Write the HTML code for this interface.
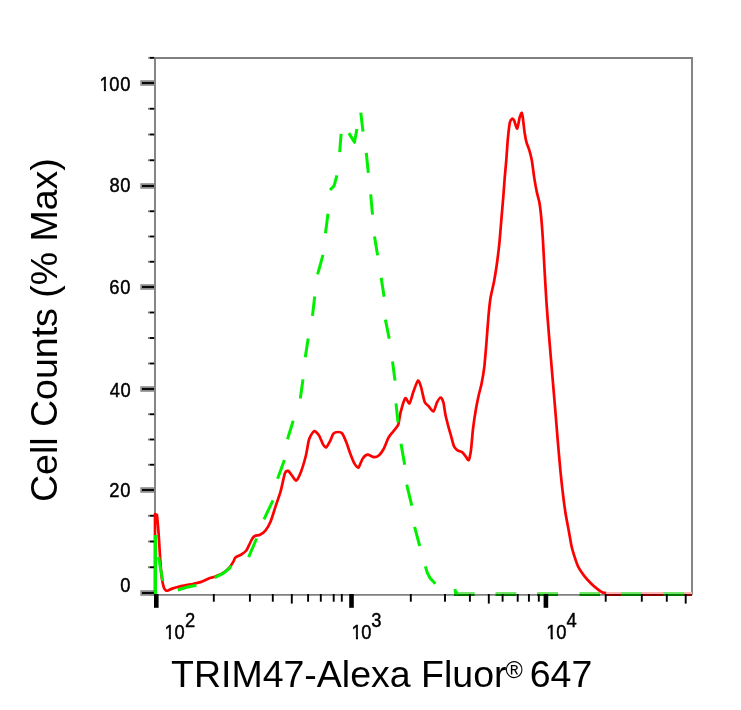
<!DOCTYPE html>
<html><head><meta charset="utf-8"><title>Flow cytometry histogram</title>
<style>
html,body{margin:0;padding:0;background:#fff;}
body{width:741px;height:710px;overflow:hidden;}
svg{display:block;will-change:transform;}
.t{font-family:"Liberation Sans",Arial,sans-serif;font-size:20.4px;fill:#000;stroke:#000;stroke-width:0.45px;}
.big{font-family:"Liberation Sans",Arial,sans-serif;font-size:37.5px;fill:#000;}
.reg{font-family:"Liberation Sans",Arial,sans-serif;font-size:23.5px;fill:#000;}
</style></head><body>
<svg width="741" height="710" viewBox="0 0 741 710"><rect width="741" height="710" fill="#fff"/><path d="M155,58 H692 V594.85 M155,57.1 V595.8 M150,594.85 H692" fill="none" stroke="#808080" stroke-width="1.9"/><rect x="140.3" y="80.20" width="13.8" height="5.6" fill="#8c8c8c"/><rect x="142" y="82.05" width="12" height="1.9" fill="#000"/><rect x="140.3" y="183.20" width="13.8" height="5.6" fill="#8c8c8c"/><rect x="142" y="185.05" width="12" height="1.9" fill="#000"/><rect x="140.3" y="284.20" width="13.8" height="5.6" fill="#8c8c8c"/><rect x="142" y="286.05" width="12" height="1.9" fill="#000"/><rect x="140.3" y="386.20" width="13.8" height="5.6" fill="#8c8c8c"/><rect x="142" y="388.05" width="12" height="1.9" fill="#000"/><rect x="140.3" y="487.20" width="13.8" height="5.6" fill="#8c8c8c"/><rect x="142" y="489.05" width="12" height="1.9" fill="#000"/><rect x="140.3" y="590.20" width="13.8" height="5.6" fill="#8c8c8c"/><rect x="142" y="592.05" width="12" height="1.9" fill="#000"/><rect x="148" y="566.30" width="2" height="1.9" fill="#777"/><rect x="150" y="566.30" width="4.2" height="1.9" fill="#000"/><rect x="148" y="540.55" width="2" height="1.9" fill="#777"/><rect x="150" y="540.55" width="4.2" height="1.9" fill="#000"/><rect x="148" y="514.80" width="2" height="1.9" fill="#777"/><rect x="150" y="514.80" width="4.2" height="1.9" fill="#000"/><rect x="148" y="463.80" width="2" height="1.9" fill="#777"/><rect x="150" y="463.80" width="4.2" height="1.9" fill="#000"/><rect x="148" y="438.55" width="2" height="1.9" fill="#777"/><rect x="150" y="438.55" width="4.2" height="1.9" fill="#000"/><rect x="148" y="413.30" width="2" height="1.9" fill="#777"/><rect x="150" y="413.30" width="4.2" height="1.9" fill="#000"/><rect x="148" y="362.55" width="2" height="1.9" fill="#777"/><rect x="150" y="362.55" width="4.2" height="1.9" fill="#000"/><rect x="148" y="337.05" width="2" height="1.9" fill="#777"/><rect x="150" y="337.05" width="4.2" height="1.9" fill="#000"/><rect x="148" y="311.55" width="2" height="1.9" fill="#777"/><rect x="150" y="311.55" width="4.2" height="1.9" fill="#000"/><rect x="148" y="260.80" width="2" height="1.9" fill="#777"/><rect x="150" y="260.80" width="4.2" height="1.9" fill="#000"/><rect x="148" y="235.55" width="2" height="1.9" fill="#777"/><rect x="150" y="235.55" width="4.2" height="1.9" fill="#000"/><rect x="148" y="210.30" width="2" height="1.9" fill="#777"/><rect x="150" y="210.30" width="4.2" height="1.9" fill="#000"/><rect x="148" y="159.30" width="2" height="1.9" fill="#777"/><rect x="150" y="159.30" width="4.2" height="1.9" fill="#000"/><rect x="148" y="133.55" width="2" height="1.9" fill="#777"/><rect x="150" y="133.55" width="4.2" height="1.9" fill="#000"/><rect x="148" y="107.80" width="2" height="1.9" fill="#777"/><rect x="150" y="107.80" width="4.2" height="1.9" fill="#000"/><rect x="148.3" y="56.9" width="2" height="1.9" fill="#777"/><rect x="150" y="56.9" width="4.2" height="1.9" fill="#000"/><rect x="605" y="592" width="87" height="2" fill="#ffb4b4"/><rect x="605" y="594" width="87" height="2" fill="#880000"/><rect x="454" y="592" width="20.7" height="2" fill="#72e666"/><rect x="454" y="594" width="20.7" height="2" fill="#007800"/><rect x="495.5" y="592" width="20.8" height="2" fill="#72e666"/><rect x="495.5" y="594" width="20.8" height="2" fill="#007800"/><rect x="537" y="592" width="21.0" height="2" fill="#72e666"/><rect x="537" y="594" width="21.0" height="2" fill="#007800"/><rect x="579.5" y="592" width="20.5" height="2" fill="#72e666"/><rect x="579.5" y="594" width="20.5" height="2" fill="#007800"/><rect x="621" y="592" width="20.8" height="2" fill="#72e666"/><rect x="621" y="594" width="20.8" height="2" fill="#007800"/><rect x="663.4" y="592" width="20.9" height="2" fill="#72e666"/><rect x="663.4" y="594" width="20.9" height="2" fill="#007800"/><rect x="154.00" y="594" width="4.6" height="13.8" fill="#000"/><rect x="349.20" y="594" width="4.6" height="13.8" fill="#000"/><rect x="543.60" y="594" width="4.6" height="13.8" fill="#000"/><rect x="212.85" y="594" width="1.9" height="7.7" fill="#000"/><rect x="248.95" y="594" width="1.9" height="7.7" fill="#000"/><rect x="271.85" y="594" width="1.9" height="7.7" fill="#000"/><rect x="290.85" y="594" width="1.9" height="9.6" fill="#000"/><rect x="307.15" y="594" width="1.9" height="7.7" fill="#000"/><rect x="319.85" y="594" width="1.9" height="7.7" fill="#000"/><rect x="332.75" y="594" width="1.9" height="7.7" fill="#000"/><rect x="340.85" y="594" width="1.9" height="7.7" fill="#000"/><rect x="409.85" y="594" width="1.9" height="7.7" fill="#000"/><rect x="444.05" y="594" width="1.9" height="7.7" fill="#000"/><rect x="468.95" y="594" width="1.9" height="7.7" fill="#000"/><rect x="487.85" y="594" width="1.9" height="9.6" fill="#000"/><rect x="501.65" y="594" width="1.9" height="7.7" fill="#000"/><rect x="516.75" y="594" width="1.9" height="7.7" fill="#000"/><rect x="527.95" y="594" width="1.9" height="7.7" fill="#000"/><rect x="537.85" y="594" width="1.9" height="7.7" fill="#000"/><rect x="604.75" y="594" width="1.9" height="7.7" fill="#000"/><rect x="640.85" y="594" width="1.9" height="7.7" fill="#000"/><rect x="665.85" y="594" width="1.9" height="7.7" fill="#000"/><rect x="684.75" y="594" width="1.9" height="9.6" fill="#000"/><path d="M155,594 L155,514 L157,515 C157.18,516.98 158.15,527.22 158.5,532 C158.85,536.78 159.66,550.98 160,556 C160.34,561.02 161.12,572.01 161.4,575 C161.68,577.99 162.10,580.08 162.4,581.6 C162.70,583.12 163.58,586.96 164,588 C164.42,589.04 165.52,590.21 166,590.5 C166.48,590.79 167.39,590.72 168.1,590.5 C168.81,590.28 170.69,589.08 172.1,588.6 C173.51,588.12 178.02,586.90 180.2,586.4 C182.38,585.90 188.43,584.80 190.8,584.3 C193.17,583.80 198.27,582.82 200.5,582.1 C202.73,581.38 208.23,578.73 209.9,578.1 C211.57,577.47 213.31,577.27 214.8,576.7 C216.29,576.13 220.97,574.30 222.7,573.2 C224.43,572.10 228.34,568.68 229.6,567.3 C230.86,565.92 232.81,562.55 233.5,561.4 C234.19,560.25 234.58,558.20 235.5,557.4 C236.42,556.60 240.14,555.30 241.4,554.5 C242.66,553.70 245.38,551.65 246.3,550.5 C247.22,549.35 248.61,545.98 249.3,544.6 C249.99,543.22 251.51,539.73 252.2,538.7 C252.89,537.67 254.29,536.25 255.2,535.8 C256.11,535.34 258.81,535.39 260,534.8 C261.19,534.20 264.17,532.22 265.4,530.7 C266.62,529.18 269.32,524.61 270.5,521.8 C271.68,518.99 274.32,510.15 275.5,506.6 C276.68,503.05 279.50,495.28 280.6,491.4 C281.70,487.51 284.02,475.69 284.9,473.3 C285.77,470.91 287.26,470.62 288.1,470.9 C288.94,471.18 291.16,474.57 292.1,475.7 C293.05,476.83 295.16,481.07 296.2,480.6 C297.24,480.13 299.87,474.63 301,471.7 C302.13,468.77 304.95,459.28 305.9,455.5 C306.84,451.72 308.16,442.13 309.1,439.3 C310.05,436.47 312.86,431.68 314,431.2 C315.14,430.72 317.86,433.69 318.9,435.2 C319.94,436.70 322.05,442.68 322.9,444.1 C323.75,445.52 325.35,447.77 326.2,447.4 C327.05,447.03 329.36,442.51 330.2,440.9 C331.04,439.29 332.45,434.64 333.4,433.6 C334.34,432.56 337.26,432.00 338.3,432 C339.34,432.00 341.36,432.38 342.3,433.6 C343.25,434.83 345.45,440.13 346.4,442.5 C347.34,444.87 349.45,451.44 350.4,453.9 C351.34,456.36 353.56,462.00 354.5,463.6 C355.44,465.20 357.56,468.17 358.5,467.6 C359.44,467.03 361.56,460.20 362.6,458.7 C363.64,457.19 366.08,454.89 367.4,454.7 C368.72,454.51 372.57,457.01 373.9,457.1 C375.23,457.19 377.67,456.44 378.8,455.5 C379.93,454.56 382.47,451.08 383.6,449 C384.73,446.92 387.36,439.78 388.5,437.7 C389.64,435.62 392.27,432.72 393.4,431.2 C394.53,429.68 397.36,426.90 398.2,424.7 C399.04,422.50 399.78,415.38 400.6,412.3 C401.42,409.22 404.16,399.34 405.2,398.3 C406.24,397.26 408.56,404.13 409.5,403.4 C410.44,402.66 412.32,394.66 413.3,392 C414.28,389.34 417.00,381.20 417.9,380.6 C418.80,380.00 420.21,384.39 421,386.9 C421.79,389.41 423.82,399.87 424.7,402.1 C425.57,404.33 427.47,404.90 428.5,406 C429.53,407.10 432.51,411.92 433.5,411.5 C434.49,411.08 436.17,404.03 437,402.4 C437.83,400.77 439.85,397.50 440.6,397.5 C441.35,397.50 442.83,400.35 443.4,402.4 C443.97,404.45 444.93,412.31 445.5,415.1 C446.07,417.89 447.65,423.84 448.3,426.3 C448.95,428.76 450.45,433.89 451.1,436.2 C451.75,438.51 453.15,444.46 453.9,446.1 C454.65,447.75 456.51,449.56 457.5,450.3 C458.49,451.04 461.42,451.66 462.4,452.4 C463.38,453.13 465.16,455.70 465.9,456.6 C466.63,457.50 468.10,460.87 468.7,460.1 C469.30,459.33 470.50,453.63 471,450 C471.50,446.37 472.43,433.75 473,429 C473.57,424.25 475.23,413.24 475.9,409.3 C476.56,405.36 478.05,398.15 478.7,395.2 C479.35,392.25 480.85,387.29 481.5,384 C482.15,380.71 483.74,371.61 484.3,367 C484.86,362.39 485.81,350.45 486.3,344.5 C486.79,338.55 488.01,321.43 488.5,316 C488.99,310.57 489.87,301.93 490.5,298 C491.13,294.07 493.16,286.21 493.9,282.3 C494.63,278.39 496.16,269.11 496.8,264.5 C497.44,259.89 498.86,248.09 499.4,242.8 C499.94,237.52 500.93,224.72 501.4,219.2 C501.87,213.68 503.01,200.33 503.4,195.5 C503.78,190.67 504.36,181.94 504.7,177.8 C505.04,173.66 505.94,164.48 506.3,160 C506.66,155.52 507.39,143.75 507.8,139.4 C508.21,135.05 509.29,125.12 509.8,122.7 C510.31,120.28 511.69,118.93 512.2,118.7 C512.71,118.47 513.62,119.55 514.2,120.7 C514.78,121.86 516.57,128.95 517.2,128.6 C517.83,128.25 519.06,119.54 519.6,117.7 C520.14,115.86 521.39,112.57 521.8,112.8 C522.21,113.03 522.77,117.40 523.1,119.7 C523.43,122.00 524.20,129.85 524.6,132.5 C525.00,135.15 525.95,140.35 526.5,142.4 C527.05,144.45 528.68,148.01 529.3,150.1 C529.92,152.19 531.20,156.94 531.8,160.3 C532.39,163.66 533.80,175.16 534.4,178.9 C535.00,182.65 536.32,189.65 536.9,192.4 C537.48,195.15 538.91,199.75 539.4,202.5 C539.89,205.25 540.70,211.86 541.1,216 C541.50,220.14 542.46,232.87 542.8,238 C543.14,243.13 543.58,252.62 544,260 C544.42,267.38 545.83,292.64 546.4,301.3 C546.97,309.96 548.16,325.05 548.9,334.2 C549.63,343.35 551.98,371.09 552.7,379.7 C553.42,388.31 554.46,400.26 555.1,408 C555.74,415.74 557.45,437.44 558.2,446 C558.95,454.56 560.67,473.72 561.5,481.4 C562.33,489.08 564.42,505.90 565.3,511.8 C566.17,517.70 568.28,528.01 569,532 C569.72,535.99 570.92,543.32 571.5,546 C572.08,548.68 573.24,552.63 574,555 C574.76,557.37 576.83,563.90 578,566.3 C579.17,568.70 582.51,573.63 584,575.6 C585.49,577.57 589.22,581.62 590.8,583.2 C592.38,584.78 596.12,588.01 597.5,589.1 C598.88,590.19 601.61,592.04 602.6,592.5 C603.59,592.96 605.60,592.94 606,593" fill="none" stroke="#ff0000" stroke-width="2.7" stroke-linejoin="round"/><polyline points="155.5,594 155.5,535" fill="none" stroke="#00f000" stroke-width="3" stroke-linejoin="round"/><polyline points="158.6,557 160.8,570 162.8,581" fill="none" stroke="#00f000" stroke-width="3" stroke-linejoin="round"/><polyline points="177.8,590 186.7,587.2 196.4,585.2" fill="none" stroke="#00f000" stroke-width="3" stroke-linejoin="round"/><polyline points="214.8,577.6 222.7,573.7 229.6,568.3 231,565.3" fill="none" stroke="#00f000" stroke-width="3" stroke-linejoin="round"/><polyline points="248.6,557.2 256.6,538.5" fill="none" stroke="#00f000" stroke-width="3" stroke-linejoin="round"/><polyline points="264,519.3 273,500.3" fill="none" stroke="#00f000" stroke-width="3" stroke-linejoin="round"/><polyline points="277.6,478.7 284.4,460" fill="none" stroke="#00f000" stroke-width="3" stroke-linejoin="round"/><polyline points="287.5,439.3 293.2,420.8" fill="none" stroke="#00f000" stroke-width="3" stroke-linejoin="round"/><polyline points="300.3,398.5 303,379.4" fill="none" stroke="#00f000" stroke-width="3" stroke-linejoin="round"/><polyline points="305.3,357.3 308.2,338.4" fill="none" stroke="#00f000" stroke-width="3" stroke-linejoin="round"/><polyline points="312.5,315.9 314.7,296.5" fill="none" stroke="#00f000" stroke-width="3" stroke-linejoin="round"/><polyline points="317.6,274.4 323,254.8" fill="none" stroke="#00f000" stroke-width="3" stroke-linejoin="round"/><polyline points="325.5,233.2 328,213.7" fill="none" stroke="#00f000" stroke-width="3" stroke-linejoin="round"/><polyline points="330,190 334.1,185.9 336.9,175.4" fill="none" stroke="#00f000" stroke-width="3" stroke-linejoin="round"/><polyline points="339.7,152.1 341.1,133.8" fill="none" stroke="#00f000" stroke-width="3" stroke-linejoin="round"/><polyline points="348.9,133.1 354.5,142.3 356.9,128.9" fill="none" stroke="#00f000" stroke-width="3" stroke-linejoin="round"/><polyline points="360.8,112.7 363,131.7" fill="none" stroke="#00f000" stroke-width="3" stroke-linejoin="round"/><polyline points="366.3,152.8 368.3,172.8" fill="none" stroke="#00f000" stroke-width="3" stroke-linejoin="round"/><polyline points="370.7,194.4 372.5,214.7" fill="none" stroke="#00f000" stroke-width="3" stroke-linejoin="round"/><polyline points="374.5,236.5 377.6,255.3" fill="none" stroke="#00f000" stroke-width="3" stroke-linejoin="round"/><polyline points="381.2,277.8 384.1,296.8" fill="none" stroke="#00f000" stroke-width="3" stroke-linejoin="round"/><polyline points="385.4,319.6 389.2,338.7" fill="none" stroke="#00f000" stroke-width="3" stroke-linejoin="round"/><polyline points="392.5,361.5 395,380.6" fill="none" stroke="#00f000" stroke-width="3" stroke-linejoin="round"/><polyline points="396,403.4 398,422.4" fill="none" stroke="#00f000" stroke-width="3" stroke-linejoin="round"/><polyline points="401,443.7 404.7,464.8" fill="none" stroke="#00f000" stroke-width="3" stroke-linejoin="round"/><polyline points="406.7,484.6 411.8,505.7" fill="none" stroke="#00f000" stroke-width="3" stroke-linejoin="round"/><polyline points="414.6,526.9 419.7,546" fill="none" stroke="#00f000" stroke-width="3" stroke-linejoin="round"/><polyline points="425.4,566.3 427.2,572.5 430,578 435.3,583.8" fill="none" stroke="#00f000" stroke-width="3" stroke-linejoin="round"/><polyline points="455,589 455.5,592.5 458,593" fill="none" stroke="#00f000" stroke-width="3" stroke-linejoin="round"/><defs><clipPath id="c0"><rect x="-10" y="-40" width="120" height="37.45"/><rect x="11.09" y="-40" width="100" height="60"/><rect x="4.90" y="-3" width="2.35" height="4"/></clipPath><clipPath id="c1"><rect x="-10" y="-40" width="120" height="37.45"/><rect x="11.20" y="-40" width="100" height="60"/><rect x="4.90" y="-3" width="2.35" height="4"/></clipPath><clipPath id="c2"><rect x="-10" y="-40" width="120" height="37.45"/><rect x="11.03" y="-40" width="100" height="60"/><rect x="4.90" y="-3" width="2.35" height="4"/></clipPath><clipPath id="c3"><rect x="-10" y="-40" width="120" height="37.45"/><rect x="11.20" y="-40" width="100" height="60"/><rect x="4.90" y="-3" width="2.35" height="4"/></clipPath></defs><text transform="translate(99.51,90.60) scale(0.9,1)" x="0.00 10.95 23.17" y="0" class="t" clip-path="url(#c0)">100</text><text transform="translate(109.57,192.40) scale(0.9,1)" x="0.00 12.00" y="0" class="t">80</text><text transform="translate(109.18,293.50) scale(0.9,1)" x="0.00 12.43" y="0" class="t">60</text><text transform="translate(109.73,396.50) scale(0.9,1)" x="0.00 11.93" y="0" class="t">40</text><text transform="translate(109.18,496.60) scale(0.9,1)" x="0.00 12.43" y="0" class="t">20</text><text transform="translate(120.37,591.50) scale(0.9,1)" x="0.00" y="0" class="t">0</text><text transform="translate(164.41,639.30) scale(0.9,1)" x="0.00 11.17" y="0" class="t" clip-path="url(#c1)">10<tspan x="22.86" y="-12.80">2</tspan></text><text transform="translate(351.51,639.30) scale(0.9,1)" x="0.00 10.84" y="0" class="t" clip-path="url(#c2)">10<tspan x="21.84" y="-12.80">3</tspan></text><text transform="translate(546.31,639.30) scale(0.9,1)" x="0.00 11.17" y="0" class="t" clip-path="url(#c3)">10<tspan x="22.58" y="-12.80">4</tspan></text><text x="171" y="687.2" class="big">TRIM47-Alexa Fluor<tspan x="505.6" y="678.1" class="reg">®</tspan><tspan x="519.27" y="687.2"> 647</tspan></text><text transform="translate(57,502) rotate(-90)" class="big">Cell Counts (% Max)</text></svg>
</body></html>
